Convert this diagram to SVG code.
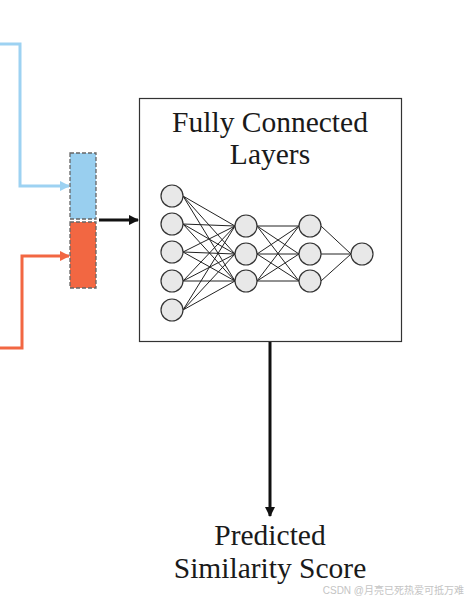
<svg xmlns="http://www.w3.org/2000/svg" width="470" height="603" viewBox="0 0 470 603">
<defs>
<style>
.t{font-family:"Liberation Serif","DejaVu Serif",serif;font-size:29.5px;fill:#1a1a1a;text-anchor:middle}
.n{fill:#e8e8e8;stroke:#333;stroke-width:1.2}
.e{stroke:#222;stroke-width:1}
.vec{stroke:#666;stroke-width:1.3;stroke-dasharray:4 2}
</style>
<marker id="ab" viewBox="0 0 10 10" refX="9" refY="5" markerWidth="3.5" markerHeight="3.5" orient="auto" markerUnits="strokeWidth"><path d="M0,0 L10,5 L0,10 z" fill="#9dd2f2"/></marker>
<marker id="ao" viewBox="0 0 10 10" refX="9" refY="5" markerWidth="3.5" markerHeight="3.5" orient="auto" markerUnits="strokeWidth"><path d="M0,0 L10,5 L0,10 z" fill="#f26742"/></marker>
<marker id="ak" viewBox="0 0 10 10" refX="9" refY="5" markerWidth="3.5" markerHeight="3.5" orient="auto" markerUnits="strokeWidth"><path d="M0,0 L10,5 L0,10 z" fill="#111"/></marker>
</defs>
<rect width="470" height="603" fill="#fff"/>
<g id="connectors" fill="none">
<polyline points="0,44 20,44 20,186 69,186" stroke="#9dd2f2" stroke-width="3" marker-end="url(#ab)"/>
<polyline points="0,348 22,348 22,256 69,256" stroke="#f26742" stroke-width="3" marker-end="url(#ao)"/>
<line x1="99" y1="220" x2="138" y2="220" stroke="#111" stroke-width="3" marker-end="url(#ak)"/>
<line x1="270" y1="341" x2="270" y2="516" stroke="#111" stroke-width="3" marker-end="url(#ak)"/>
</g>
<g id="concat-vector">
<rect class="vec" x="70" y="153" width="26" height="66" fill="#99cfef"/>
<rect class="vec" x="70" y="222" width="26" height="66" fill="#f26742"/>
</g>
<g id="fc-layers">
<rect x="139.5" y="98.5" width="262" height="243" fill="#fff" stroke="#333" stroke-width="1.2"/>
<text class="t" x="270" y="132">Fully Connected</text>
<text class="t" x="270" y="164">Layers</text>
<g id="edges">
<line class="e" x1="183" y1="196" x2="235" y2="226"/><line class="e" x1="183" y1="196" x2="235" y2="254"/><line class="e" x1="183" y1="196" x2="235" y2="281"/>
<line class="e" x1="183" y1="224" x2="235" y2="226"/><line class="e" x1="183" y1="224" x2="235" y2="254"/><line class="e" x1="183" y1="224" x2="235" y2="281"/>
<line class="e" x1="183" y1="252" x2="235" y2="226"/><line class="e" x1="183" y1="252" x2="235" y2="254"/><line class="e" x1="183" y1="252" x2="235" y2="281"/>
<line class="e" x1="183" y1="281" x2="235" y2="226"/><line class="e" x1="183" y1="281" x2="235" y2="254"/><line class="e" x1="183" y1="281" x2="235" y2="281"/>
<line class="e" x1="183" y1="310" x2="235" y2="226"/><line class="e" x1="183" y1="310" x2="235" y2="254"/><line class="e" x1="183" y1="310" x2="235" y2="281"/>
<line class="e" x1="257" y1="226" x2="299" y2="226"/><line class="e" x1="257" y1="226" x2="299" y2="254"/><line class="e" x1="257" y1="226" x2="299" y2="281"/>
<line class="e" x1="257" y1="254" x2="299" y2="226"/><line class="e" x1="257" y1="254" x2="299" y2="254"/><line class="e" x1="257" y1="254" x2="299" y2="281"/>
<line class="e" x1="257" y1="281" x2="299" y2="226"/><line class="e" x1="257" y1="281" x2="299" y2="254"/><line class="e" x1="257" y1="281" x2="299" y2="281"/>
<line class="e" x1="321" y1="226" x2="351" y2="254"/><line class="e" x1="321" y1="254" x2="351" y2="254"/><line class="e" x1="321" y1="281" x2="351" y2="254"/>
</g>
<g id="neurons">
<circle class="n" cx="172" cy="196" r="11"/><circle class="n" cx="172" cy="224" r="11"/><circle class="n" cx="172" cy="252" r="11"/><circle class="n" cx="172" cy="281" r="11"/><circle class="n" cx="172" cy="310" r="11"/>
<circle class="n" cx="246" cy="226" r="11"/><circle class="n" cx="246" cy="254" r="11"/><circle class="n" cx="246" cy="281" r="11"/>
<circle class="n" cx="310" cy="226" r="11"/><circle class="n" cx="310" cy="254" r="11"/><circle class="n" cx="310" cy="281" r="11"/>
<circle class="n" cx="362" cy="254" r="11"/>
</g>
</g>
<g id="output">
<text class="t" x="270" y="545">Predicted</text>
<text class="t" x="270" y="578">Similarity Score</text>
</g>
<text x="464" y="594" font-family="'Liberation Sans','Noto Sans CJK SC',sans-serif" font-size="10" fill="#c4c4c4" text-anchor="end">CSDN @月亮已死热爱可抵万难</text>
</svg>
